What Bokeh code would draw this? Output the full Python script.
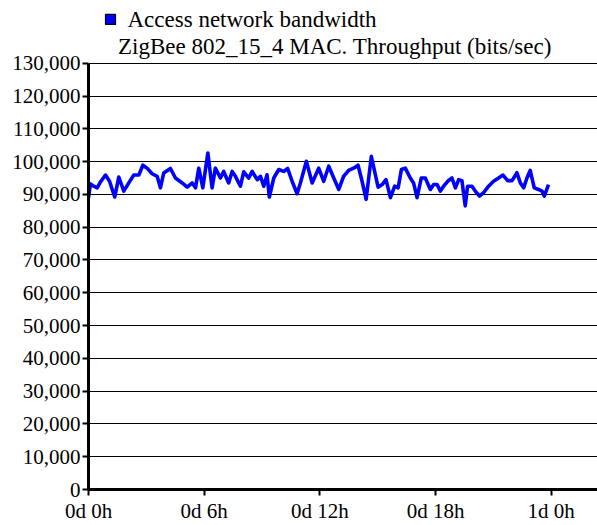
from bokeh.plotting import figure
from bokeh.models import FixedTicker, NumeralTickFormatter, Range1d
from bokeh.core.properties import value
from bokeh.embed import file_html
from bokeh.resources import INLINE

hours = [0, 0.10, 0.27, 0.45, 0.62, 0.88, 1.09, 1.36, 1.57, 1.83,
         2.09, 2.35, 2.61, 2.82, 3.04, 3.30, 3.56, 3.73, 3.90, 4.25,
         4.51, 4.86, 5.12, 5.38, 5.55, 5.72, 5.93, 6.19, 6.41, 6.58,
         6.84, 7.01, 7.27, 7.45, 7.62, 7.88, 8.05, 8.31, 8.49, 8.75,
         8.92, 9.09, 9.26, 9.38, 9.61, 9.87, 10.12, 10.33, 10.56, 10.82,
         10.99, 11.30, 11.60, 11.94, 12.20, 12.46, 12.72, 12.98, 13.23, 13.49,
         13.75, 13.98, 14.19, 14.40, 14.67, 14.84, 15.02, 15.23, 15.43, 15.66,
         15.88, 16.06, 16.23, 16.43, 16.69, 16.86, 17.04, 17.26, 17.47, 17.73,
         17.90, 18.08, 18.25, 18.42, 18.63, 18.85, 19.03, 19.20, 19.37, 19.46,
         19.54, 19.66, 19.89, 20.06, 20.28, 20.49, 20.75, 21.01, 21.27, 21.50,
         21.74, 21.97, 22.22, 22.40, 22.57, 22.74, 22.91, 23.12, 23.34, 23.52,
         23.64, 23.86]

throughput = [89000, 93200, 92500, 92000, 93800, 95900, 94000, 89200, 95300, 91000,
              93500, 95900, 95900, 98900, 98000, 96300, 95500, 92000, 96500, 97900,
              95000, 93500, 92200, 93500, 92000, 98000, 92000, 102600, 92000, 98000,
              95000, 97000, 93500, 97000, 95500, 92500, 96900, 95000, 97000, 94500,
              95500, 92500, 96000, 89200, 95000, 97600, 97000, 97900, 94000, 90200,
              93500, 100100, 93500, 98000, 94000, 98600, 95000, 91500, 95500, 97300,
              98000, 98900, 94000, 88500, 101600, 97000, 92200, 93000, 94500, 89000,
              92500, 92000, 97600, 98000, 95000, 93500, 89000, 95000, 95000, 91500,
              93000, 93000, 91000, 92500, 94000, 95000, 92000, 94500, 94200, 90000,
              86500, 92500, 92500, 91000, 89500, 90500, 92500, 94000, 95000, 95900,
              94200, 94200, 96600, 93500, 92000, 95000, 97300, 92000, 91500, 91000,
              89500, 93000]

x_ticks = [0, 6, 12, 18, 24]
x_tick_labels = ["0d 0h", "0d 6h", "0d 12h", "0d 18h", "1d 0h"]
y_ticks = list(range(0, 130001, 10000))

legend_label = "Access network bandwidth"
series_label = "ZigBee 802_15_4 MAC. Throughput (bits/sec)"

FONT = "Liberation Serif"
W, H = 597, 525
LEFT, BOTTOM = 88, 34
FRAME_W = W - LEFT
FRAME_H = H - BOTTOM
X_MAX = 26.4
Y_AXIS_MAX = 130000
AXIS_PX = 428                      # pixel height of the 0..130,000 axis
Y_TOP = Y_AXIS_MAX * FRAME_H / AXIS_PX   # frame extends above the axis for the legend block

p = figure(width=W, height=H, output_backend="svg", toolbar_location=None,
           x_range=Range1d(0, X_MAX), y_range=Range1d(0, Y_TOP),
           min_border_left=LEFT, min_border_right=0, min_border_top=0, min_border_bottom=BOTTOM)
p.outline_line_color = None
p.background_fill_color = "white"
p.border_fill_color = "white"

p.line(hours, throughput, line_color="#0000ff", line_width=3.6, line_join="round")

# grids
p.xgrid.visible = False
p.ygrid.ticker = FixedTicker(ticks=y_ticks)
p.ygrid.grid_line_color = "black"
p.ygrid.grid_line_width = 1.2

# axes
for ax in (p.xaxis[0], p.yaxis[0]):
    ax.axis_line_color = "black"
    ax.axis_line_width = 3
    ax.major_tick_line_color = "black"
    ax.major_tick_line_width = 2
    ax.major_tick_out = 6
    ax.major_tick_in = 0
    ax.minor_tick_out = 0
    ax.minor_tick_in = 0
    ax.major_label_text_font = FONT
    ax.major_label_text_color = "black"

p.xaxis.major_label_text_font_size = "21px"
p.yaxis.major_label_text_font_size = "21px"
p.xaxis.ticker = FixedTicker(ticks=x_ticks)
p.xaxis.major_label_overrides = {t: l for t, l in zip(x_ticks, x_tick_labels)}
p.xaxis.major_label_standoff = 3
p.yaxis.ticker = FixedTicker(ticks=y_ticks)
p.yaxis.bounds = (0, Y_AXIS_MAX)
p.yaxis.formatter = NumeralTickFormatter(format="0,0")
p.yaxis.major_label_standoff = 2

# legend block (placed by pixel offsets converted to data space)
def hx(px):  # px from frame left -> hours
    return px * X_MAX / FRAME_W

def vy(py):  # px from canvas top -> value
    return (FRAME_H - py) * Y_AXIS_MAX / AXIS_PX

p.scatter(x=[hx(22)], y=[vy(19)], marker="square", size=10,
          fill_color="#0000ff", line_color="black", line_width=1.2)
p.text(x=[hx(39), hx(29.5)], y=[vy(19.5), vy(46)], text=[legend_label, series_label],
       text_font=value(FONT), text_font_size=value("23px"),
       text_baseline="middle", text_align="left", text_color="black")

open("out.html", "w").write(file_html(p, INLINE))
